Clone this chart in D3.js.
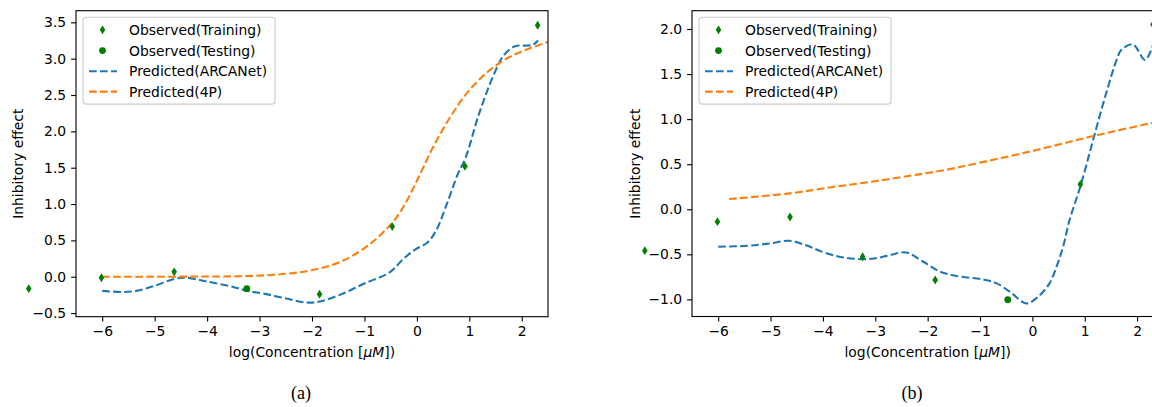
<!DOCTYPE html>
<html>
<head>
<meta charset="utf-8">
<script src="https://cdn.jsdelivr.net/npm/d3@7"></script>
<style>
body { margin: 0; background: #fff; }
text { font-family: "DejaVu Sans", sans-serif; }
</style>
</head>
<body>
<div id="chart"></div>
<script>
var svgWidth = 1152;
var svgHeight = 407;

// log concentrations of the dilution series (shared by both panels)
var logConc = [-7.401, -6.015, -4.628, -3.242, -1.856, -0.470, 0.916, 2.303];

// panel (a)
var observedA = [-0.164, -0.014, 0.068, -0.164, -0.24, 0.69, 1.52, 3.46];
var testingIdxA = [3];
var arcaA_x = [-6.0, -5.62, -5.35, -5.01, -4.62, -4.4, -3.99, -3.5, -3.23, -2.9, -2.49, -2.1, -1.85, -1.47, -0.99, -0.52, -0.25, -0.04, 0.2, 0.37, 0.57, 0.78, 0.93, 1.18, 1.46, 1.66, 1.87, 2.07, 2.21, 2.31];
var arcaA_y = [-0.195, -0.21, -0.195, -0.127, -0.03, -0.014, -0.068, -0.14, -0.195, -0.236, -0.30, -0.355, -0.34, -0.25, -0.09, 0.06, 0.25, 0.37, 0.47, 0.64, 1.0, 1.41, 1.64, 2.23, 2.77, 3.05, 3.17, 3.18, 3.19, 3.25];
var fourPA_x = [-6.0, -5.0, -4.0, -3.17, -2.5, -2.01, -1.47, -0.93, -0.46, -0.25, 0.0, 0.3, 0.64, 0.98, 1.32, 1.66, 2.0, 2.5];
var fourPA_y = [0.0, 0.0, 0.003, 0.01, 0.04, 0.09, 0.2, 0.43, 0.75, 0.97, 1.32, 1.77, 2.2, 2.55, 2.8, 2.98, 3.1, 3.23];

// panel (b)
var observedB = [-0.46, -0.138, -0.086, -0.527, -0.785, -1.004, 0.276, 2.05];
var testingIdxB = [5];
var arcaB_x = [-6.0, -5.44, -5.02, -4.64, -4.32, -3.97, -3.56, -3.07, -2.73, -2.41, -2.09, -1.77, -1.45, -0.94, -0.69, -0.43, -0.115, 0.11, 0.33, 0.46, 0.585, 0.71, 0.93, 1.16, 1.41, 1.61, 1.70, 1.92, 2.15, 2.303];
var arcaB_y = [-0.416, -0.405, -0.38, -0.35, -0.40, -0.48, -0.54, -0.55, -0.51, -0.48, -0.58, -0.69, -0.74, -0.78, -0.82, -0.915, -1.045, -0.97, -0.82, -0.64, -0.42, -0.12, 0.28, 0.77, 1.29, 1.66, 1.77, 1.83, 1.656, 1.82];
var fourPB_x = [-5.79, -4.64, -3.77, -3.07, -2.37, -1.67, -0.98, 0.0, 0.98, 1.22, 2.3];
var fourPB_y = [0.114, 0.176, 0.25, 0.306, 0.369, 0.435, 0.52, 0.646, 0.787, 0.82, 0.96];

// ticks
var xTicks = [-6, -5, -4, -3, -2, -1, 0, 1, 2];
var yTicksA = [-0.5, 0.0, 0.5, 1.0, 1.5, 2.0, 2.5, 3.0, 3.5];
var yTicksB = [-1.0, -0.5, 0.0, 0.5, 1.0, 1.5, 2.0];

var legendLabels = ["Observed(Training)", "Observed(Testing)", "Predicted(ARCANet)", "Predicted(4P)"];
var green = "#008000", blue = "#1f77b4", orange = "#ff7f0e";
var fontSize = 13.9;

var svg = d3.select("#chart")
    .append("svg")
    .attr("width", svgWidth)
    .attr("height", svgHeight);

svg.append("rect").attr("width", svgWidth).attr("height", svgHeight).attr("fill", "#fff");

function zip(xs, ys) {
    return xs.map((v, i) => [v, ys[i]]);
}

// diamond path ('d' marker), centred at 0,0
function diamond(hw, hh) {
    return `M0,${-hh}L${hw},0L0,${hh}L${-hw},0Z`;
}

function drawPanel(p) {
    var x = d3.scaleLinear().domain([-6.5, 2.5]).range([p.left, p.right]);
    var y = d3.scaleLinear().domain(p.yDomain).range([p.bottom, p.top]);

    svg.append("clipPath")
        .attr("id", p.id + "-clip")
        .append("rect")
        .attr("x", p.left).attr("y", p.top)
        .attr("width", p.right - p.left).attr("height", p.bottom - p.top);

    var line = d3.line()
        .x(d => x(d[0]))
        .y(d => y(d[1]))
        .curve(d3.curveCatmullRom.alpha(0.5));

    var lines = svg.append("g").attr("clip-path", `url(#${p.id}-clip)`);

    lines.append("path")
        .datum(zip(p.arcaX, p.arcaY))
        .attr("d", line)
        .attr("fill", "none")
        .attr("stroke", blue)
        .attr("stroke-width", 2.1)
        .attr("stroke-dasharray", "7.7,3.3");

    lines.append("path")
        .datum(zip(p.fourPX, p.fourPY))
        .attr("d", line)
        .attr("fill", "none")
        .attr("stroke", orange)
        .attr("stroke-width", 2.1)
        .attr("stroke-dasharray", "7.7,3.3");

    // observed points, not clipped (first one sits left of the axes)
    var pts = logConc.map((c, i) => ({ x: c, y: p.observed[i], test: p.testIdx.indexOf(i) >= 0 }));

    svg.append("g").selectAll("path")
        .data(pts.filter(d => !d.test))
        .enter()
        .append("path")
        .attr("d", diamond(2.8, 4.4))
        .attr("transform", d => `translate(${x(d.x)},${y(d.y)})`)
        .attr("fill", green);

    svg.append("g").selectAll("circle")
        .data(pts.filter(d => d.test))
        .enter()
        .append("circle")
        .attr("cx", d => x(d.x))
        .attr("cy", d => y(d.y))
        .attr("r", 3.4)
        .attr("fill", green);

    // axes
    var bottomAxis = d3.axisBottom(x)
        .tickValues(xTicks)
        .tickFormat(d3.format("d"))
        .tickSize(4.9)
        .tickPadding(4.9)
        .tickSizeOuter(0);

    var leftAxis = d3.axisLeft(y)
        .tickValues(p.yTicks)
        .tickFormat(d3.format(".1f"))
        .tickSize(4.9)
        .tickPadding(4.9)
        .tickSizeOuter(0);

    var xAxis = svg.append("g")
        .attr("transform", `translate(0, ${p.bottom})`)
        .call(bottomAxis);

    var yAxis = svg.append("g")
        .attr("transform", `translate(${p.left}, 0)`)
        .call(leftAxis);

    [xAxis, yAxis].forEach(function(ax) {
        ax.select(".domain").remove();
        ax.attr("font-size", fontSize);
        ax.selectAll("line").attr("stroke", "#000").attr("stroke-width", 1.1);
        ax.selectAll("text").attr("fill", "#000");
    });

    // frame
    svg.append("rect")
        .attr("x", p.left).attr("y", p.top)
        .attr("width", p.right - p.left).attr("height", p.bottom - p.top)
        .attr("fill", "none")
        .attr("stroke", "#000")
        .attr("stroke-width", 1.1);

    // axis labels
    var xl = svg.append("text")
        .attr("x", (p.left + p.right) / 2)
        .attr("y", 357)
        .attr("text-anchor", "middle")
        .attr("font-size", fontSize)
        .attr("fill", "#000");
    xl.append("tspan").text("log(Concentration [");
    xl.append("tspan").attr("font-style", "italic").text("μM");
    xl.append("tspan").text("])");

    svg.append("text")
        .attr("transform", `translate(${p.ylabelX}, ${(p.top + p.bottom) / 2}) rotate(-90)`)
        .attr("text-anchor", "middle")
        .attr("dy", "0.35em")
        .attr("font-size", fontSize)
        .attr("fill", "#000")
        .text("Inhibitory effect");

    // legend
    var lg = svg.append("g").attr("transform", `translate(${p.left + 7}, 17.3)`);
    lg.append("rect")
        .attr("width", 192)
        .attr("height", 86.8)
        .attr("rx", 3)
        .attr("fill", "#fff")
        .attr("fill-opacity", 0.8)
        .attr("stroke", "#cccccc")
        .attr("stroke-width", 1.1);

    var rowY = [12.5, 33.3, 54, 74.3];
    lg.append("path").attr("d", diamond(2.8, 4.4)).attr("transform", `translate(19.5, ${rowY[0]})`).attr("fill", green);
    lg.append("circle").attr("cx", 19.5).attr("cy", rowY[1]).attr("r", 3.4).attr("fill", green);
    [blue, orange].forEach(function(c, i) {
        lg.append("line")
            .attr("x1", 6).attr("x2", 34)
            .attr("y1", rowY[i + 2]).attr("y2", rowY[i + 2])
            .attr("stroke", c)
            .attr("stroke-width", 2.1)
            .attr("stroke-dasharray", "7.7,3.3");
    });
    lg.selectAll("text.leg")
        .data(legendLabels)
        .enter()
        .append("text")
        .classed("leg", true)
        .attr("x", 46)
        .attr("y", (d, i) => rowY[i])
        .attr("dy", "0.36em")
        .attr("font-size", fontSize)
        .attr("fill", "#000")
        .text(d => d);

    // caption (serif, like the paper)
    svg.append("text")
        .attr("x", p.captionX)
        .attr("y", 399)
        .attr("text-anchor", "middle")
        .style("font-family", "'Liberation Serif', serif")
        .attr("font-size", 18)
        .attr("fill", "#000")
        .text(p.caption);
}

drawPanel({
    id: "a", left: 76, right: 548, top: 10.7, bottom: 316.7,
    yDomain: [-0.55, 3.66], yTicks: yTicksA,
    observed: observedA, testIdx: testingIdxA,
    arcaX: arcaA_x, arcaY: arcaA_y, fourPX: fourPA_x, fourPY: fourPA_y,
    ylabelX: 18.3, captionX: 301, caption: "(a)"
});

drawPanel({
    id: "b", left: 692, right: 1163.3, top: 10.7, bottom: 316.5,
    yDomain: [-1.19, 2.203], yTicks: yTicksB,
    observed: observedB, testIdx: testingIdxB,
    arcaX: arcaB_x, arcaY: arcaB_y, fourPX: fourPB_x, fourPY: fourPB_y,
    ylabelX: 635, captionX: 912, caption: "(b)"
});
</script>
</body>
</html>
